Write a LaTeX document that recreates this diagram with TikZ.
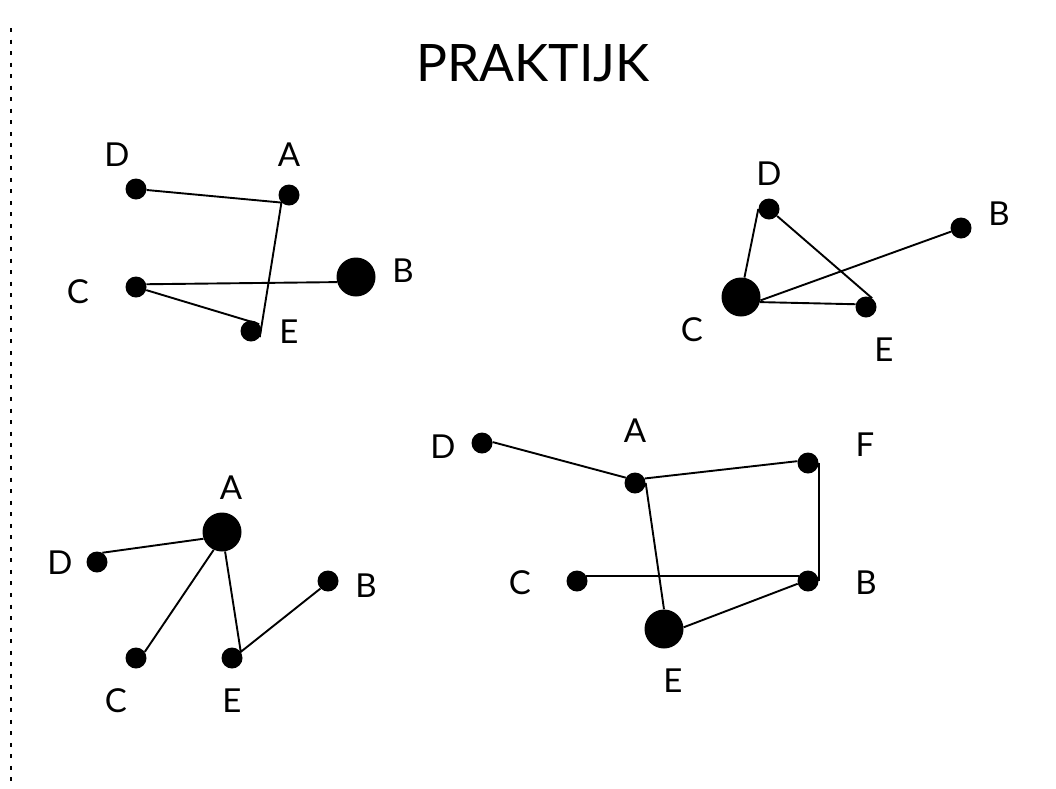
\documentclass[tikz,border=0pt]{standalone}
\usepackage{fontspec}
\setmainfont{Lato}
\usepackage{tikz}

\begin{document}
\begin{tikzpicture}[x=1pt,y=-1pt,
  vtx/.style={circle,fill=black,inner sep=0pt,minimum size=21pt},
  bigvtx/.style={circle,fill=black,inner sep=0pt,minimum size=39pt},
  lbl/.style={inner sep=0pt,font=\fontsize{33}{40}\selectfont},
  edge/.style={line width=1.9pt}]
\useasboundingbox (0,0) rectangle (1056,788);
% separator on the left
\draw[line width=2pt,dash pattern=on 4pt off 7.53pt] (11,28) -- (11,783);
\node[inner sep=0pt,font=\fontsize{51.6}{60}\selectfont] (title) at (533,63) {PRAKTIJK};

% upper left
\node[vtx] (aD) at (136,189) {};
\node[vtx] (aA) at (289,195) {};
\node[vtx] (aC) at (136,287) {};
\node[bigvtx] (aB) at (356,277) {};
\node[vtx] (aE) at (251,331) {};
\node[lbl] (laD) at (117,155) {D};
\node[lbl] (laA) at (289,155) {A};
\node[lbl] (laC) at (78,292) {C};
\node[lbl] (laB) at (403,271) {B};
\node[lbl] (laE) at (289,332) {E};
\draw[edge] (aD) -- (aA.south west) -- (aE.-35);
\draw[edge] (aC) -- (aE.40);
\draw[edge] (aC.15) -- (aB.195);

% upper right
\node[vtx] (bD) at (769,209) {};
\node[vtx] (bB) at (961,228) {};
\node[bigvtx] (bC) at (741,297) {};
\node[vtx] (bE) at (866,307) {};
\node[lbl] (lbD) at (769,174) {D};
\node[lbl] (lbB) at (999,214) {B};
\node[lbl] (lbC) at (692,330) {C};
\node[lbl] (lbE) at (884,350) {E};
\draw[edge] (bD.west) -- (bC.80);
\draw[edge] (bD) -- (bE.55);
\draw[edge] (bC.-10) -- (bB);
\draw[edge] (bC.-15) -- (bE.165);

% lower left
\node[bigvtx] (cA) at (222,532) {};
\node[vtx] (cD) at (97,562) {};
\node[vtx] (cB) at (328,581) {};
\node[vtx] (cC) at (136,658) {};
\node[vtx] (cE) at (232,658) {};
\node[lbl] (lcA) at (231,488) {A};
\node[lbl] (lcD) at (60,563) {D};
\node[lbl] (lcB) at (366,586) {B};
\node[lbl] (lcC) at (116,701) {C};
\node[lbl] (lcE) at (232,701) {E};
\draw[edge] (cD.60) -- (cA.200);
\draw[edge] (cA.245) -- (cC.35);
\draw[edge] (cA.-81) -- (cE.35) -- (cB.225);

% lower right
\node[vtx] (dD) at (482,443) {};
\node[vtx] (dA) at (635,483) {};
\node[vtx] (dF) at (808,463) {};
\node[vtx] (dC) at (577,581) {};
\node[vtx] (dB) at (808,581) {};
\node[bigvtx] (dE) at (664,629) {};
\node[lbl] (ldD) at (443,447) {D};
\node[lbl] (ldA) at (635,431) {A};
\node[lbl] (ldF) at (865,445) {F};
\node[lbl] (ldC) at (520,583) {C};
\node[lbl] (ldB) at (866,583) {B};
\node[lbl] (ldE) at (673,681) {E};
\draw[edge] (dD.5) -- (dA.150);
\draw[edge] (dA.25) -- (dF.170);
\draw[edge] (dA.east) -- (dE.north);
\draw[edge] (dF.east) -- (dB.east);
\draw[edge] (dC.30) -- (dB.150);
\draw[edge] (dE.5) -- (dB.195);
\end{tikzpicture}
\end{document}
